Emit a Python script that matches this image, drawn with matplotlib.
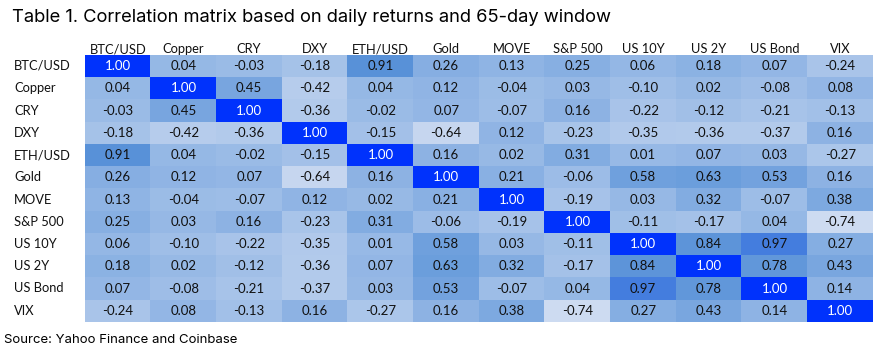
import matplotlib.pyplot as plt
import numpy as np
from matplotlib.colors import LinearSegmentedColormap, Normalize

labels = ["BTC/USD", "Copper", "CRY", "DXY", "ETH/USD", "Gold", "MOVE",
          "S&P 500", "US 10Y", "US 2Y", "US Bond", "VIX"]

btc = [1.00, 0.04, -0.03, -0.18, 0.91, 0.26, 0.13, 0.25, 0.06, 0.18, 0.07, -0.24]
copper = [0.04, 1.00, 0.45, -0.42, 0.04, 0.12, -0.04, 0.03, -0.10, 0.02, -0.08, 0.08]
cry = [-0.03, 0.45, 1.00, -0.36, -0.02, 0.07, -0.07, 0.16, -0.22, -0.12, -0.21, -0.13]
dxy = [-0.18, -0.42, -0.36, 1.00, -0.15, -0.64, 0.12, -0.23, -0.35, -0.36, -0.37, 0.16]
eth = [0.91, 0.04, -0.02, -0.15, 1.00, 0.16, 0.02, 0.31, 0.01, 0.07, 0.03, -0.27]
gold = [0.26, 0.12, 0.07, -0.64, 0.16, 1.00, 0.21, -0.06, 0.58, 0.63, 0.53, 0.16]
move = [0.13, -0.04, -0.07, 0.12, 0.02, 0.21, 1.00, -0.19, 0.03, 0.32, -0.07, 0.38]
spx = [0.25, 0.03, 0.16, -0.23, 0.31, -0.06, -0.19, 1.00, -0.11, -0.17, 0.04, -0.74]
us10y = [0.06, -0.10, -0.22, -0.35, 0.01, 0.58, 0.03, -0.11, 1.00, 0.84, 0.97, 0.27]
us2y = [0.18, 0.02, -0.12, -0.36, 0.07, 0.63, 0.32, -0.17, 0.84, 1.00, 0.78, 0.43]
usbond = [0.07, -0.08, -0.21, -0.37, 0.03, 0.53, -0.07, 0.04, 0.97, 0.78, 1.00, 0.14]
vix = [-0.24, 0.08, -0.13, 0.16, -0.27, 0.16, 0.38, -0.74, 0.27, 0.43, 0.14, 1.00]

corr = np.array([btc, copper, cry, dxy, eth, gold, move, spx, us10y, us2y, usbond, vix])

# excel-like color scale: light blue -> mid blue, the diagonal jumps to bright blue
cmap = LinearSegmentedColormap.from_list("xl", [
    (0.0, (205/255, 219/255, 241/255)),
    (0.983, (84/255, 143/255, 216/255)),
    (0.99, (0/255, 50/255, 252/255)),
    (1.0, (0/255, 50/255, 252/255)),
])
norm = Normalize(vmin=-0.74, vmax=1.0)

W, H = 879, 351
fig = plt.figure(figsize=(W/100, H/100), dpi=100)
ax = fig.add_axes([85/W, 1 - 322/H, (873-85)/W, (322-55)/H])
ax.imshow(corr, cmap=cmap, norm=norm, aspect="auto", interpolation="nearest")
ax.set_axis_off()

cell_font = ["Lato", "DejaVu Sans"]
n = len(labels)
for i in range(n):
    for j in range(n):
        v = corr[i, j]
        ax.text(j, i, f"{v:.2f}", ha="center", va="center", fontsize=9.5,
                family=cell_font, color="white" if v >= 0.99 else "#111111")
    ax.text(i, -0.75, labels[i], ha="center", va="center", fontsize=9.3,
            family=cell_font, color="#111111")
    fig.text(14/W, 1 - (66 + i*22.25)/H, labels[i], ha="left", va="center",
             fontsize=9.3, family=cell_font, color="#111111")

fig.text(12/W, 1 - 17/H, "Table 1. Correlation matrix based on daily returns and 65-day window",
         ha="left", va="center", fontsize=13.2, family=["Inter", "DejaVu Sans"], color="black")
fig.text(4/W, 1 - 340/H, "Source: Yahoo Finance and Coinbase", ha="left", va="center",
         fontsize=9.5, family=["Inter", "DejaVu Sans"], color="black")

fig.savefig("out.png", dpi=100, facecolor="white")
